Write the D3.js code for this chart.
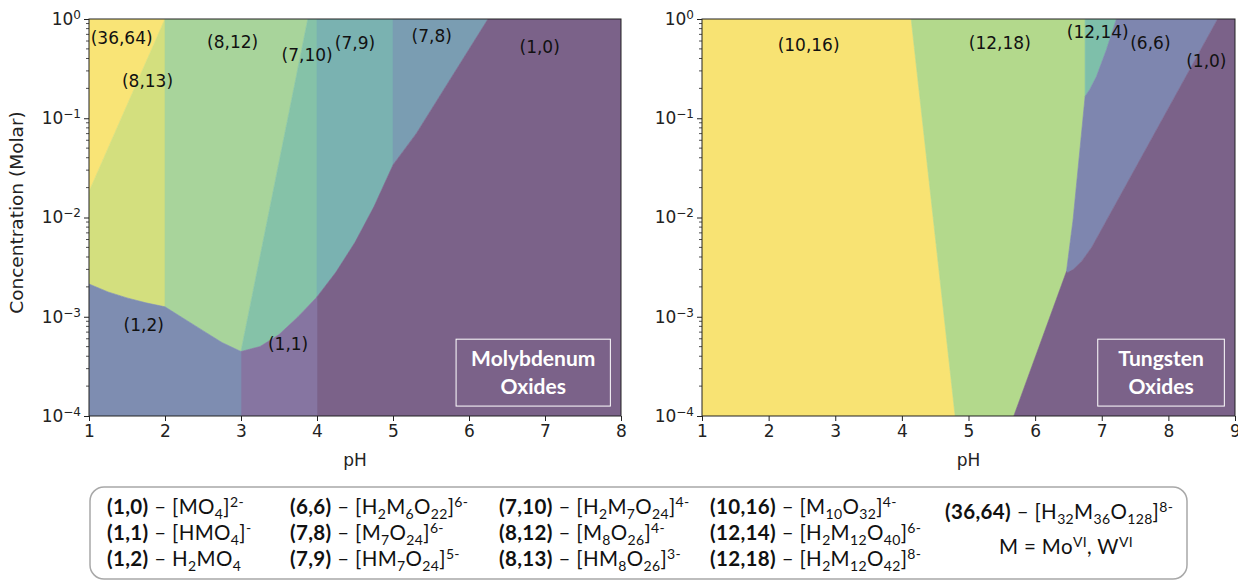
<!DOCTYPE html>
<html>
<head>
<meta charset="utf-8">
<script src="https://cdn.jsdelivr.net/npm/d3@7"></script>
<style>
  body { margin: 0; background: #fff; }
  svg { display: block; }
</style>
</head>
<body>
<svg id="chart" width="1238" height="581"></svg>
<script>
// boundaries, as [pH, log10(conc)]
const mo3664Edge = [[1, -1.74], [2, 0]];
const mo12Top = [[1, -2.67], [1.25, -2.75], [1.5, -2.81], [1.75, -2.86], [2, -2.9],
  [2.25, -3.02], [2.5, -3.14], [2.75, -3.26], [3, -3.35]];
const mo11Top = [[3, -3.35], [3.25, -3.3], [3.5, -3.18], [3.75, -3.0], [4, -2.8],
  [4.25, -2.55], [4.5, -2.25], [4.75, -1.89], [5, -1.47]];
const mo812Edge = [[3.88, 0], [3, -3.35]];
const mo78Edge = [[5, -1.47], [5.31, -1.15], [6.25, 0]];

const w1016Edge = [[4.14, 0], [4.8, -4]];
const w1214Edge = [[7.22, 0], [7.07, -0.31], [6.92, -0.58], [6.82, -0.71], [6.75, -0.78]];
const w1218Edge = [[6.75, 0], [6.75, -0.78], [6.57, -2.02], [6.47, -2.545], [5.68, -4]];
const w66Edge = [[8.74, 0], [7.08, -2.02], [6.85, -2.3], [6.7, -2.44], [6.58, -2.52], [6.49, -2.555]];

// labels drawn inside the maps
const moLabels = ['(36,64)', '(8,13)', '(8,12)', '(7,10)', '(7,9)', '(7,8)', '(1,0)', '(1,2)', '(1,1)'];
const moLabelAt = [[1.43, -0.19], [1.77, -0.62], [2.89, -0.23], [3.87, -0.36], [4.5, -0.24],
  [5.51, -0.17], [6.93, -0.28], [1.72, -3.08], [3.62, -3.27]];
const wLabels = ['(10,16)', '(12,18)', '(12,14)', '(6,6)', '(1,0)'];
const wLabelAt = [[2.6, -0.26], [5.47, -0.245], [6.94, -0.134], [7.73, -0.24], [8.57, -0.42]];

const moTicks = [1, 2, 3, 4, 5, 6, 7, 8];
const wTicks = [1, 2, 3, 4, 5, 6, 7, 8, 9];
const yMajor = [1e-4, 1e-3, 1e-2, 1e-1, 1];

const legendCodes = [
  ['1,0', '1,1', '1,2'],
  ['6,6', '7,8', '7,9'],
  ['7,10', '8,12', '8,13'],
  ['10,16', '12,14', '12,18'],
  ['36,64']
];
const legendFormulas = [
  ['[MO_4]^{2-}', '[HMO_4]^-', 'H_2MO_4'],
  ['[H_2M_6O_{22}]^{6-}', '[M_7O_{24}]^{6-}', '[HM_7O_{24}]^{5-}'],
  ['[H_2M_7O_{24}]^{4-}', '[M_8O_{26}]^{4-}', '[HM_8O_{26}]^{3-}'],
  ['[M_{10}O_{32}]^{4-}', '[H_2M_{12}O_{40}]^{6-}', '[H_2M_{12}O_{42}]^{8-}'],
  ['[H_{32}M_{36}O_{128}]^{8-}']
];
const legendNote = 'M = Mo^{VI}, W^{VI}';

// fills: (36,64) (8,13) (8,12) (7,10) (7,9) (7,8) (1,0) (1,1) (1,2)
const moColors = ['#f9e476', '#d3df7e', '#a8d49b', '#85c2a8', '#7ab2b1', '#7a9db2', '#7b6289', '#8675a1', '#7e8db1'];
// fills: (10,16) (12,18) (12,14) (6,6) (1,0)
const wColors = ['#f8e373', '#b3d98c', '#7ebfaa', '#7e86af', '#7b6289'];

const svg = d3.select('#chart');
const top0 = 19, bottom0 = 416;
const y = d3.scaleLog().domain([1e-4, 1]).range([bottom0, top0]);
const moX = d3.scaleLinear().domain([1, 8]).range([89, 621]);
const wX = d3.scaleLinear().domain([1, 9]).range([702, 1235]);

const rev = a => a.slice().reverse();
const within = (c, a, b) => c.filter(p => p[0] >= a && p[0] <= b);

const moPolys = [
  [[1, 0], [2, 0], [1, -1.74]],
  [...mo3664Edge, [2, -2.9], ...rev(within(mo12Top, 1, 2))],
  [[2, 0], ...mo812Edge, ...rev(within(mo12Top, 2, 3))],
  [[3.88, 0], [4, 0], ...rev(within(mo11Top, 3, 4))],
  [[4, 0], [5, 0], ...rev(within(mo11Top, 4, 5))],
  [[5, 0], ...rev(mo78Edge)],
  [[6.25, 0], [8, 0], [8, -4], [4, -4], ...within(mo11Top, 4, 5), ...mo78Edge.slice(1)],
  [[3, -4], [4, -4], ...rev(within(mo11Top, 3, 4))],
  [...mo12Top, [3, -4], [1, -4]]
];
const wPolys = [
  [[1, 0], ...w1016Edge, [1, -4]],
  [...w1016Edge, ...rev(w1218Edge)],
  [[6.75, 0], ...w1214Edge],
  [...w66Edge, [6.47, -2.545], [6.57, -2.02], [6.75, -0.78], ...rev(w1214Edge)],
  [[8.74, 0], [9, 0], [9, -4], [5.68, -4], [6.47, -2.545], ...rev(w66Edge)]
];

const defs = svg.append('defs');

const drawRegions = (x, polys, colors, id) => {
  const [x0, x1] = x.range();
  defs.append('clipPath').attr('id', id)
    .append('rect').attr('x', x0).attr('y', top0).attr('width', x1 - x0).attr('height', bottom0 - top0);
  const line = d3.line().x(p => x(p[0])).y(p => y(10 ** p[1]));
  svg.append('g').attr('clip-path', `url(#${id})`)
    .selectAll('path').data(polys).join('path')
    .attr('d', p => line(p) + 'Z')
    .attr('fill', (p, i) => colors[i])
    .attr('stroke', (p, i) => colors[i])
    .attr('stroke-width', 0.6);
};

const drawLabels = (x, names, at) => {
  svg.append('g').selectAll('text').data(names).join('text')
    .attr('x', (d, i) => x(at[i][0]))
    .attr('y', (d, i) => y(10 ** at[i][1]))
    .attr('text-anchor', 'middle')
    .attr('dy', '0.36em')
    .attr('font-family', 'DejaVu Sans')
    .attr('font-size', 17)
    .attr('fill', '#111')
    .text(d => d);
};

const drawAxes = (x, ticks) => {
  const [x0, x1] = x.range();
  const ax = svg.append('g').attr('transform', `translate(0,${bottom0})`)
    .call(d3.axisBottom(x).tickValues(ticks).tickFormat(d3.format('d')).tickSize(5).tickPadding(4));
  ax.select('.domain').remove();
  ax.attr('font-family', 'DejaVu Sans').attr('font-size', 17).attr('color', '#222');

  const ay = svg.append('g').attr('transform', `translate(${x0},0)`)
    .call(d3.axisLeft(y).tickValues(yMajor).tickSize(5).tickFormat(''));
  ay.select('.domain').remove();
  ay.attr('color', '#222');
  const lab = ay.selectAll('.tick').append('text')
    .attr('x', -8).attr('dy', '0.32em')
    .attr('text-anchor', 'end')
    .attr('fill', '#222')
    .attr('font-family', 'DejaVu Sans').attr('font-size', 17);
  lab.append('tspan').text('10');
  lab.append('tspan').attr('dy', '-0.5em').attr('font-size', 12)
    .text(d => { const e = Math.round(Math.log10(d)); return e < 0 ? '\u2212' + (-e) : e; });

  const minor = [];
  for (let e = -4; e < 0; e++) for (let k = 2; k < 10; k++) minor.push(k * 10 ** e);
  svg.append('g').selectAll('line').data(minor).join('line')
    .attr('x1', x0 - 3).attr('x2', x0)
    .attr('y1', d => y(d)).attr('y2', d => y(d))
    .attr('stroke', '#222').attr('stroke-width', 0.8);

  svg.append('rect').attr('x', x0).attr('y', top0)
    .attr('width', x1 - x0).attr('height', bottom0 - top0)
    .attr('fill', 'none').attr('stroke', '#222').attr('stroke-width', 1);

  svg.append('text').attr('x', (x0 + x1) / 2).attr('y', 466)
    .attr('text-anchor', 'middle')
    .attr('font-family', 'DejaVu Sans').attr('font-size', 17).attr('fill', '#222')
    .text('pH');
};

const drawTag = (x, lines, a, b) => {
  const x0 = x(a[0]), x1 = x(b[0]), y0 = y(10 ** a[1]), y1 = y(10 ** b[1]);
  svg.append('rect').attr('x', x0).attr('y', y0).attr('width', x1 - x0).attr('height', y1 - y0)
    .attr('fill', 'none').attr('stroke', '#fff').attr('stroke-width', 1);
  svg.append('g').selectAll('text').data(lines).join('text')
    .attr('x', (x0 + x1) / 2)
    .attr('y', (d, i) => y0 + 27 + i * 28)
    .attr('text-anchor', 'middle')
    .attr('font-family', 'Lato').attr('font-weight', 700).attr('font-size', 21)
    .attr('fill', '#fff')
    .text(d => d);
};

drawRegions(moX, moPolys, moColors, 'clipMo');
drawRegions(wX, wPolys, wColors, 'clipW');
drawLabels(moX, moLabels, moLabelAt);
drawLabels(wX, wLabels, wLabelAt);
drawAxes(moX, moTicks);
drawAxes(wX, wTicks);
drawTag(moX, ['Molybdenum', 'Oxides'], [5.83, -3.226], [7.86, -3.9]);
drawTag(wX, ['Tungsten', 'Oxides'], [6.94, -3.226], [8.84, -3.9]);

svg.append('text')
  .attr('transform', `translate(23,${(top0 + bottom0) / 2 - 5}) rotate(-90)`)
  .attr('text-anchor', 'middle')
  .attr('font-family', 'DejaVu Sans').attr('font-size', 18.5).attr('fill', '#222')
  .text('Concentration (Molar)');

// legend, formulas use _ for subscripts and ^ for superscripts
const addFormula = (t, s) => {
  let shift = 0;
  const parts = s.match(/[_^](\{[^}]*\}|.)|[^_^]+/g);
  parts.forEach(p => {
    let txt = p, want = 0, small = false;
    if (p[0] === '_' || p[0] === '^') {
      txt = p.slice(1).replace(/[{}]/g, '');
      want = p[0] === '_' ? 4.5 : -7;
      small = true;
    }
    t.append('tspan').attr('dy', want - shift).attr('font-size', small ? 14 : null).text(txt);
    shift = want;
  });
};

const legendX = [107, 290, 499, 710, 945];
const rowY = [514, 540, 566];

svg.append('rect').attr('x', 90).attr('y', 487).attr('width', 1097).attr('height', 92)
  .attr('rx', 14).attr('fill', 'none').attr('stroke', '#a8a8a8').attr('stroke-width', 1.5);

legendCodes.forEach((col, ci) => {
  col.forEach((code, ri) => {
    const t = svg.append('text')
      .attr('x', legendX[ci]).attr('y', ci === 4 ? rowY[0] + 5 : rowY[ri])
      .attr('font-family', 'Lato').attr('font-size', 20.5).attr('letter-spacing', 0.35)
      .attr('fill', '#111');
    t.append('tspan').attr('font-weight', 700).text(`(${code})`);
    t.append('tspan').text(' \u2013 ');
    addFormula(t, legendFormulas[ci][ri]);
  });
});

const note = svg.append('text').attr('x', 1066).attr('y', 554).attr('text-anchor', 'middle')
  .attr('font-family', 'Lato').attr('font-size', 20.5).attr('letter-spacing', 0.35).attr('fill', '#111');
addFormula(note, legendNote);
</script>
</body>
</html>
